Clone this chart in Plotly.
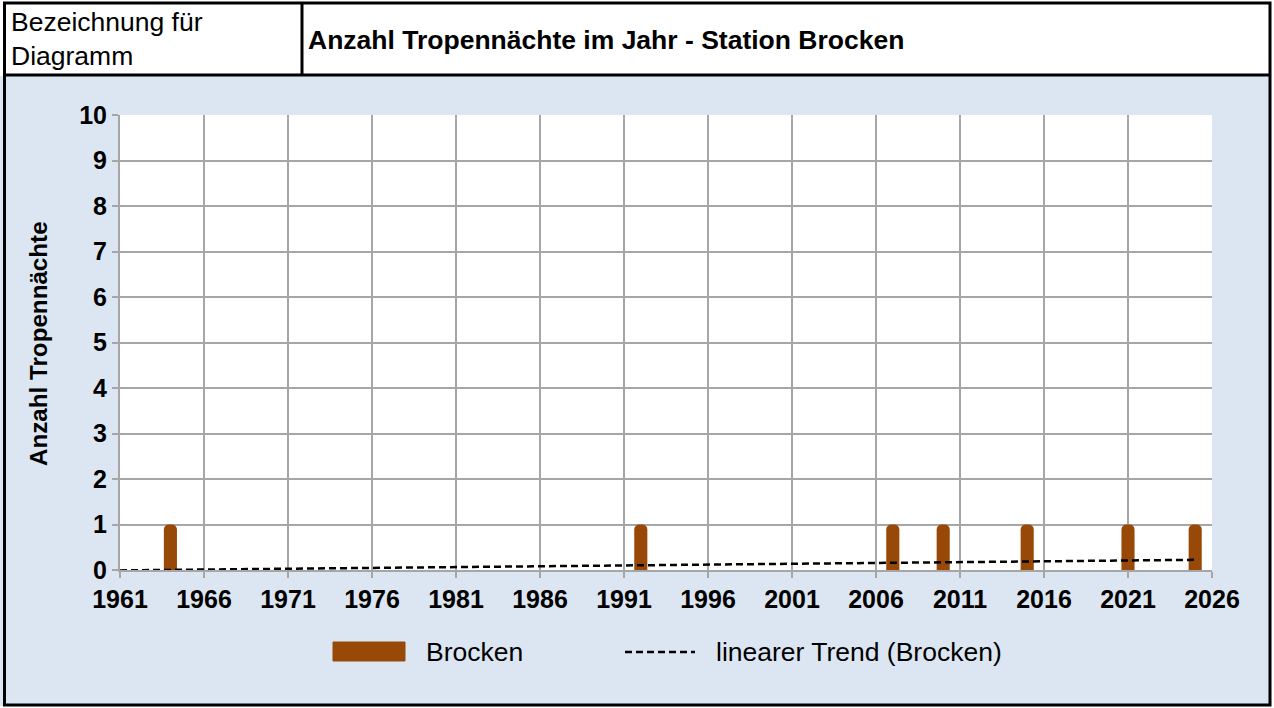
import numpy as np
import plotly.graph_objects as go

# ---- data ----
years_all = list(range(1961, 2026))
event_years = [1964, 1992, 2007, 2010, 2015, 2021, 2025]
event_values = [1, 1, 1, 1, 1, 1, 1]
series_name = "Brocken"
trend_name = "linearer Trend (Brocken)"
title_text = "Anzahl Tropennächte im Jahr - Station Brocken"
label_text = "Bezeichnung für<br>Diagramm"
y_title = "Anzahl Tropennächte"

values_all = [event_values[event_years.index(y)] if y in event_years else 0 for y in years_all]
slope, intercept = np.polyfit(years_all, values_all, 1)
trend_x = [years_all[0], years_all[-1]]
trend_y = [slope * x + intercept for x in trend_x]

W, H = 1274, 708
def px(x):
    return x / W
def py(y):
    return 1 - y / H

BAR_COLOR = "#984807"
FONT = "Liberation Sans, Arial, sans-serif"

fig = go.Figure()
fig.add_trace(go.Bar(x=event_years, y=event_values, width=0.78,
                     marker=dict(color=BAR_COLOR, line=dict(width=0)),
                     name=series_name, showlegend=False))
fig.add_trace(go.Scatter(x=trend_x, y=trend_y, mode="lines",
                         line=dict(color="black", width=2.5, dash="7px,4px"),
                         name=trend_name, showlegend=False))

grid = "#A6A6A6"
fig.update_layout(
    template="none",
    width=W, height=H,
    margin=dict(l=0, r=0, t=0, b=0, pad=0, autoexpand=False),
    paper_bgcolor="#DCE6F2",
    plot_bgcolor="white",
    barcornerradius=5,
    font=dict(family=FONT, color="black"),
    xaxis=dict(domain=[px(120), px(1212)], range=[1961, 2026], automargin=False,
               tick0=1961, dtick=5, showgrid=True, gridcolor=grid, gridwidth=2,
               ticks="outside", ticklen=6, tickwidth=2, tickcolor=grid,
               showline=True, linecolor=grid, linewidth=2, mirror=False,
               tickfont=dict(family=FONT, size=25, color="black", weight="bold"),
               zeroline=False, fixedrange=True),
    yaxis=dict(domain=[py(570), py(115)], range=[0, 10], dtick=1, automargin=False,
               showgrid=True, gridcolor=grid, gridwidth=2,
               ticks="outside", ticklen=6, tickwidth=2, tickcolor=grid,
               showline=True, linecolor=grid, linewidth=2,
               tickfont=dict(family=FONT, size=25, color="black", weight="bold"),
               zeroline=False, fixedrange=True),
    showlegend=False,
)

shapes = []
# header white area
shapes.append(dict(type="rect", xref="paper", yref="paper", x0=0, x1=1, y0=py(76), y1=1,
                   fillcolor="white", line=dict(width=0), layer="below"))
# right and bottom white strips outside border
shapes.append(dict(type="rect", xref="paper", yref="paper", x0=px(1271), x1=1, y0=0, y1=1,
                   fillcolor="white", line=dict(width=0), layer="below"))
shapes.append(dict(type="rect", xref="paper", yref="paper", x0=0, x1=1, y0=0, y1=py(706),
                   fillcolor="white", line=dict(width=0), layer="below"))
# outer border
shapes.append(dict(type="rect", xref="paper", yref="paper", x0=px(4.5), x1=px(1270), y0=py(705), y1=py(3),
                   line=dict(color="black", width=3), fillcolor="rgba(0,0,0,0)"))
shapes.append(dict(type="line", xref="paper", yref="paper", x0=px(4), x1=px(1270), y0=py(75), y1=py(75),
                   line=dict(color="black", width=3)))
shapes.append(dict(type="line", xref="paper", yref="paper", x0=px(302), x1=px(302), y0=py(75), y1=py(3),
                   line=dict(color="black", width=3)))
# legend markers
shapes.append(dict(type="rect", xref="paper", yref="paper", x0=px(333), x1=px(405), y0=py(661), y1=py(642),
                   fillcolor=BAR_COLOR, line=dict(color=BAR_COLOR, width=1)))
shapes.append(dict(type="line", xref="paper", yref="paper", x0=px(625), x1=px(695), y0=py(652), y1=py(652),
                   line=dict(color="black", width=2.5, dash="7px,4px")))
fig.update_layout(shapes=shapes)

ann = []
ann.append(dict(text=label_text, xref="paper", yref="paper", x=px(9), y=py(39), xanchor="left", yanchor="middle",
                showarrow=False, align="left", font=dict(family=FONT, size=26.5, color="black")))
ann.append(dict(text="<b>" + title_text + "</b>", xref="paper", yref="paper", x=px(306), y=py(40),
                xanchor="left", yanchor="middle", showarrow=False, font=dict(family=FONT, size=26.5, color="black")))
ann.append(dict(text="<b>" + y_title + "</b>", xref="paper", yref="paper", x=px(38), y=py(344),
                xanchor="center", yanchor="middle", textangle=-90, showarrow=False,
                font=dict(family=FONT, size=24.2, color="black")))
ann.append(dict(text=series_name, xref="paper", yref="paper", x=px(424), y=py(652), xanchor="left", yanchor="middle",
                showarrow=False, font=dict(family=FONT, size=26.5, color="black")))
ann.append(dict(text=trend_name, xref="paper", yref="paper", x=px(714), y=py(652), xanchor="left", yanchor="middle",
                showarrow=False, font=dict(family=FONT, size=26.5, color="black")))
fig.update_layout(annotations=ann)

fig.write_html("out.html", config={"displayModeBar": False},
               post_script="document.body.style.margin='0';document.body.style.padding='0';document.documentElement.style.overflow='hidden';")
